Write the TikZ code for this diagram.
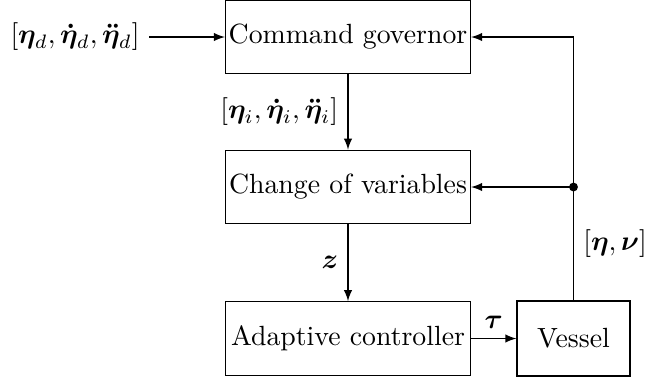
\documentclass[tikz,border=0pt]{standalone}
\usepackage{amsmath}
\usepackage{bm}
\usetikzlibrary{arrows.meta}

\tikzset{
	block/.style={draw, minimum width=88.2pt, minimum height=26.5pt, inner sep=0pt},
	smallblock/.style={draw, minimum width=40.7pt, minimum height=27pt, inner sep=0pt}
}

\begin{document}
\begin{tikzpicture}[x=0.36pt, y=-0.36pt]
		
		\useasboundingbox (0,0) rectangle (670,383);
		
		\node [block] (gov) at (348,37) {Command governor};
		\node [block] (change) at (348,187) {Change of variables};
		\node [block] (ctrl) at (348,338.5) {Adaptive controller};
		\node [smallblock] (vessel) at (573.5,338.5) {Vessel};
		\node (ref) at (75,37) {$[\bm{\eta}_d, \bm{\dot{\eta}}_d, \bm{\ddot{\eta}}_d]$};
		\coordinate (split) at (vessel.north |- change.east);
		
		\draw [-latex] (ref) -- (gov);
		\draw [-latex] (gov) -- node[midway, left]{$[\bm{\eta}_i, \bm{\dot{\eta}}_i, \bm{\ddot{\eta}}_i]$} (change);
		\draw [-latex] (change) -- node[midway, left]{$\bm{z}$} (ctrl);
		\draw [-latex] (ctrl) -- node[above]{$\bm{\tau}$} (vessel);
		
		\draw (vessel) -- node[midway, right]{$[\bm{\eta}, \bm{\nu}]$} (split);
		\draw [-latex] (split) -- (change);
		\draw [-latex] (split) |- (gov);
		\fill [black] (split) circle (1.6pt);
	\end{tikzpicture}
\end{document}
